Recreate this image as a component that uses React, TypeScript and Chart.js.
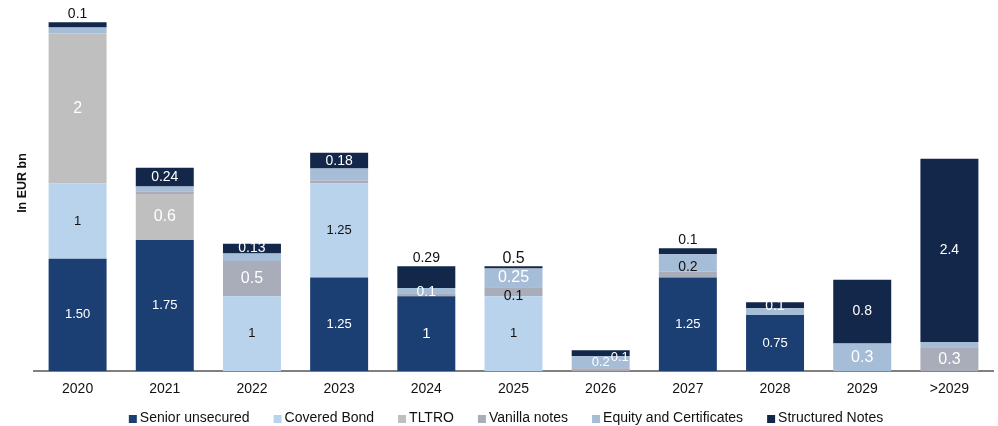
import React, { useEffect, useRef } from "react";
import { Chart, registerables } from "chart.js";

Chart.register(...registerables);

const FONT = "'Liberation Sans', Arial, sans-serif";

const categories = ["2020", "2021", "2022", "2023", "2024", "2025", "2026", "2027", "2028", "2029", ">2029"];

const seriesNames = ["Senior unsecured", "Covered Bond", "TLTRO", "Vanilla notes", "Equity and Certificates", "Structured Notes"];

const seniorUnsecured = [1.5, 1.75, 0, 1.25, 1.0, 0, 0, 1.25, 0.75, 0, 0];
const coveredBond = [1.0, 0, 1.0, 1.25, 0, 1.0, 0, 0, 0, 0, 0];
const tltro = [2.0, 0.61, 0, 0, 0, 0, 0, 0, 0, 0, 0];
const vanillaNotes = [0, 0.03, 0.47, 0.04, 0.04, 0.12, 0.04, 0.08, 0, 0, 0.32];
const equityCertificates = [0.08, 0.07, 0.1, 0.16, 0.07, 0.25, 0.16, 0.23, 0.09, 0.37, 0.07];
const structuredNotes = [0.07, 0.25, 0.13, 0.21, 0.29, 0.03, 0.08, 0.08, 0.08, 0.85, 2.44];

const seniorLabels = ["1.50", "1.75", null, "1.25", "1", null, null, "1.25", "0.75", null, null];
const coveredLabels = ["1", null, "1", "1.25", null, "1", null, null, null, null, null];
const tltroLabels = ["2", "0.6", null, null, null, null, null, null, null, null, null];
const vanillaLabels = [null, null, "0.5", null, null, "0.1", null, null, null, null, "0.3"];
const equityLabels = [null, null, null, null, "0.1", "0.25", "0.2", "0.2", null, "0.3", null];
const structuredLabels = ["0.1", "0.24", "0.13", "0.18", "0.29", "0.5", "0.1", "0.1", "0.1", "0.8", "2.4"];

const yAxisTitle = "In EUR bn";

const colors = ["#1b3f73", "#b9d3ec", "#bfbfbf", "#a9acb9", "#a6bdd7", "#12274a"];

// label styling (series default), overrides keyed "series:index"
const seriesLabelStyle = [
  { color: "#ffffff", size: 13 },
  { color: "#111111", size: 13 },
  { color: "#ffffff", size: 16 },
  { color: "#ffffff", size: 16 },
  { color: "#ffffff", size: 16 },
  { color: "#ffffff", size: 14 },
];
const labelOverrides: Record<string, any> = {
  "0:4": { size: 15 },
  "5:0": { above: true, color: "#111111", size: 14 },
  "5:4": { above: true, color: "#111111", size: 14 },
  "5:5": { above: true, color: "#111111", size: 16 },
  "5:7": { above: true, color: "#111111", size: 14 },
  "4:4": { dy: 2, size: 14 },
  "3:5": { dy: 4, color: "#111111", size: 14 },
  "4:7": { dy: 4, color: "#111111", size: 14 },
  "4:6": { size: 13 },
  "5:6": { dx: 19, dy: 4, size: 13 },
  "5:8": { dy: 1, size: 14 },
};

const allLabels = [seniorLabels, coveredLabels, tltroLabels, vanillaLabels, equityLabels, structuredLabels];
const allValues = [seniorUnsecured, coveredBond, tltro, vanillaNotes, equityCertificates, structuredNotes];

const labelPlugin = {
  id: "segLabels",
  afterDatasetsDraw(chart: any) {
    const ctx = chart.ctx;
    ctx.save();
    ctx.textAlign = "center";
    ctx.textBaseline = "middle";
    allLabels.forEach((labels, ds) => {
      const meta = chart.getDatasetMeta(ds);
      labels.forEach((txt, i) => {
        if (!txt) return;
        const el = meta.data[i];
        const st = { ...seriesLabelStyle[ds], ...(labelOverrides[ds + ":" + i] || {}) };
        const x = el.x + (st.dx || 0);
        let y: number;
        if (st.above) {
          let top = el.y;
          for (let k = 0; k < allValues.length; k++) {
            const e = chart.getDatasetMeta(k).data[i];
            if (allValues[k][i] > 0 && e.y < top) top = e.y;
          }
          y = top - 8;
        } else {
          y = (el.y + el.base) / 2 + (st.dy || 0);
        }
        ctx.font = `${st.size}px ${FONT}`;
        ctx.fillStyle = st.color;
        ctx.fillText(txt, x, y);
      });
    });
    ctx.restore();
  },
};

const titlePlugin = {
  id: "yTitle",
  afterDraw(chart: any) {
    const ctx = chart.ctx;
    ctx.save();
    ctx.translate(23, 183);
    ctx.rotate(-Math.PI / 2);
    ctx.font = `bold 12.5px ${FONT}`;
    ctx.fillStyle = "#111111";
    ctx.textAlign = "center";
    ctx.textBaseline = "middle";
    ctx.fillText(yAxisTitle, 0, 0);
    ctx.restore();
  },
};

const legendPlugin = {
  id: "customLegend",
  afterDraw(chart: any) {
    const ctx = chart.ctx;
    ctx.save();
    ctx.font = `14px ${FONT}`;
    ctx.textBaseline = "middle";
    ctx.textAlign = "left";
    const box = 8;
    const gapBoxText = 3;
    const gapItems = 24;
    const widths = seriesNames.map((n) => box + gapBoxText + ctx.measureText(n).width);
    const total = widths.reduce((a, b) => a + b, 0) + gapItems * (seriesNames.length - 1);
    let x = 506 - total / 2;
    const y = 418;
    seriesNames.forEach((n, i) => {
      ctx.fillStyle = colors[i];
      ctx.fillRect(x, y - box / 2 + 1, box, box);
      ctx.fillStyle = "#111111";
      ctx.fillText(n, x + box + gapBoxText, y);
      x += widths[i] + gapItems;
    });
    ctx.restore();
  },
};

export default function App() {
  const ref = useRef<HTMLCanvasElement | null>(null);
  useEffect(() => {
    document.body.style.margin = "0";
    if (!ref.current) return;
    Chart.defaults.font.family = FONT;
    const chart = new Chart(ref.current, {
      type: "bar",
      data: {
        labels: categories,
        datasets: allValues.map((vals, i) => ({
          label: seriesNames[i],
          data: vals,
          backgroundColor: colors[i],
          borderWidth: 0,
          barPercentage: 0.665,
          categoryPercentage: 1,
        })),
      },
      options: {
        animation: false,
        responsive: false,
        layout: { padding: { left: 34, right: 5, top: 11, bottom: 18 } },
        plugins: {
          legend: { display: false },
          tooltip: { enabled: false },
        },
        scales: {
          x: {
            stacked: true,
            grid: { display: false, drawTicks: false },
            border: { display: true, color: "#808080", width: 2 },
            ticks: { color: "#111111", font: { size: 14, family: FONT }, padding: 10 },
          },
          y: {
            display: false,
            stacked: true,
            min: 0,
            max: 4.8,
          },
        },
      },
      plugins: [labelPlugin, titlePlugin, legendPlugin],
    });
    return () => chart.destroy();
  }, []);
  return (
    <div style={{ position: "absolute", left: 0, top: 0, width: 998, height: 426 }}>
      <canvas ref={ref} width={998} height={426} style={{ display: "block" }} />
    </div>
  );
}
